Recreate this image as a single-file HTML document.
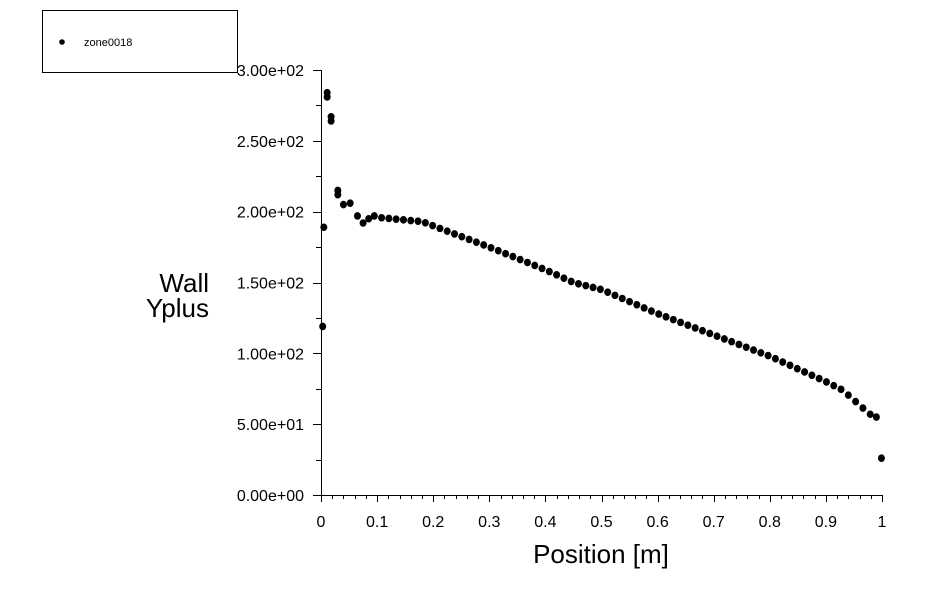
<!DOCTYPE html>
<html><head><meta charset="utf-8"><style>
html,body{margin:0;padding:0;background:#fff;}
svg{display:block;font-family:"Liberation Sans",Arial,sans-serif;}
</style></head><body>
<svg id="s" width="940" height="605" viewBox="0 0 940 605" xmlns="http://www.w3.org/2000/svg">
<rect x="0" y="0" width="940" height="605" fill="#fff"/>
<rect x="42.5" y="10.5" width="195" height="62" fill="#fff" stroke="#000" stroke-width="1"/>
<circle cx="62" cy="42" r="2.8" fill="#000"/>
<text x="84" y="46" font-size="11" fill="#000">zone0018</text>
<g id="ax" stroke="#000" stroke-width="1" fill="none"></g>
<g id="lab" font-size="16" fill="#000"></g>
<text x="209" y="292" font-size="26" text-anchor="end">Wall</text>
<text x="209" y="317" font-size="26" text-anchor="end">Yplus</text>
<text x="601" y="563" font-size="26" text-anchor="middle">Position [m]</text>
<g id="pts" fill="#000"></g>
</svg>
<script>
var NS="http://www.w3.org/2000/svg";
function X(v){return 321+v*561;}
function Y(v){return 495-v*425/300;}
function el(p,t,a,txt){var e=document.createElementNS(NS,t);for(var k in a)e.setAttribute(k,a[k]);if(txt)e.textContent=txt;document.getElementById(p).appendChild(e);}
var d="M321.5 70 V495.5 H882";
for(var i=0;i<=12;i++){var y=Math.round(Y(i*25))+0.5;d+=" M"+(i%2?316:313)+" "+y+" H321";}
for(var i=0;i<=50;i++){var x=Math.round(X(i/50))+0.5;d+=" M"+x+" 495 V"+(i%5?499:502);}
el("ax","path",{d:d});
var yl=["0.00e+00","5.00e+01","1.00e+02","1.50e+02","2.00e+02","2.50e+02","3.00e+02"];
for(var i=0;i<7;i++)el("lab","text",{x:304,y:Y(i*50)+6,"text-anchor":"end"},yl[i]);
var xl=["0","0.1","0.2","0.3","0.4","0.5","0.6","0.7","0.8","0.9","1"];
for(var i=0;i<11;i++)el("lab","text",{x:X(i/10),y:527,"text-anchor":"middle"},xl[i]);
var pts=[[0.003,119],[0.005,189],[0.011,284],[0.011,281],[0.018,267],[0.018,264],[0.03,215],[0.03,212],[0.04,205],[0.052,206],[0.065,197],[0.075,192],[0.085,195],[0.095,197]];
var k=[[0.1,196],[0.18,193],[0.2,190],[0.3,175],[0.4,159],[0.45,150],[0.5,145],[0.6,128],[0.7,113],[0.8,98],[0.9,80],[0.93,74],[0.95,67],[0.97,60],[0.985,55]];
function f(x){for(var i=0;i<k.length-1;i++){if(x<=k[i+1][0]){var t=(x-k[i][0])/(k[i+1][0]-k[i][0]);return k[i][1]+t*(k[i+1][1]-k[i][1]);}}return 55;}
for(var x=0.108;x<0.992;x+=0.013)pts.push([x,f(x)]);
pts.push([0.99,55]);pts.push([0.999,26]);
pts.forEach(function(p){el("pts","ellipse",{cx:X(p[0]),cy:Y(p[1]),rx:3.5,ry:3.8});});
</script>
</body></html>
